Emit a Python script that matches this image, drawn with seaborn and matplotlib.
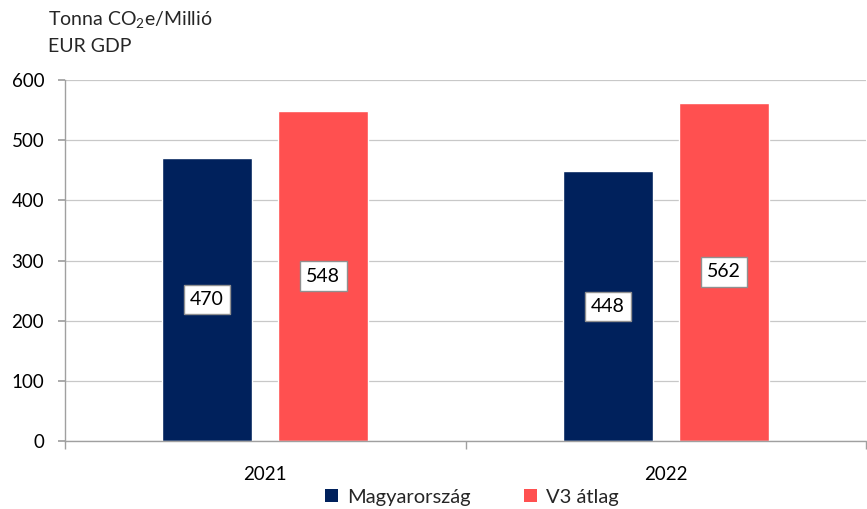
import matplotlib
matplotlib.use("Agg")
import matplotlib.pyplot as plt
import seaborn as sns
import pandas as pd
from matplotlib.patches import Patch

years = ["2021", "2022"]
series = ["Magyarország", "V3 átlag"]
hu_values = [470, 448]
v3_values = [548, 562]
colors = ["#00215C", "#FF5050"]

df = pd.DataFrame({
    "year": years * 2,
    "series": [series[0]] * 2 + [series[1]] * 2,
    "value": hu_values + v3_values,
})

sns.set_theme(style="white")
plt.rcParams["font.family"] = ["Lato", "DejaVu Sans"]

fig = plt.figure(figsize=(8.67, 5.09), dpi=100)
ax = fig.add_axes([65 / 867, (509 - 441) / 509, (866 - 65) / 867, (441 - 80) / 509])

sns.barplot(data=df, x="year", y="value", hue="series", palette=colors,
            width=0.58, gap=0.225, ax=ax, legend=False, saturation=1)

ax.set_ylim(0, 600)
ax.set_yticks(range(0, 601, 100))
ax.set_xlim(-0.5, 1.5)
ax.yaxis.grid(True, color="#C8C8C8", linewidth=0.9)
ax.set_axisbelow(True)
ax.set_xlabel("")
ax.set_ylabel("")
for s in ["top", "right"]:
    ax.spines[s].set_visible(False)
for s in ["left", "bottom"]:
    ax.spines[s].set_color("#A0A0A0")
    ax.spines[s].set_linewidth(1.0)

ax.tick_params(axis="y", which="both", left=True, length=5, color="#A0A0A0",
               labelsize=13.5, pad=10, labelcolor="black")
ax.tick_params(axis="x", bottom=False, labelsize=13.5, pad=12, labelcolor="black")
ax.set_xticks([-0.5, 0.5, 1.5], minor=True)
ax.tick_params(axis="x", which="minor", bottom=True, length=6, color="#A0A0A0")

for cont in ax.containers:
    for bar in cont:
        h = bar.get_height()
        ax.text(bar.get_x() + bar.get_width() / 2, h / 2, f"{h:.0f}",
                ha="center", va="center", fontsize=14, color="black",
                bbox=dict(boxstyle="square,pad=0.32", facecolor="white",
                          edgecolor="#909090", linewidth=1))

fig.text(48 / 867, 1 - 20 / 509, "Tonna CO$_{\\mathregular{2}}$e/Millió", fontsize=14,
         ha="left", va="center")
fig.text(48 / 867, 1 - 47 / 509, "EUR GDP", fontsize=14, ha="left", va="center")

handles = [Patch(facecolor=c, edgecolor="none") for c in colors]
fig.legend(handles, series, loc="center", bbox_to_anchor=(472 / 867, 1 - 497 / 509),
           ncol=2, frameon=False, fontsize=14.5, handlelength=0.65, handleheight=0.65,
           columnspacing=2.65, handletextpad=0.45)

fig.savefig("out.png", dpi=100)
